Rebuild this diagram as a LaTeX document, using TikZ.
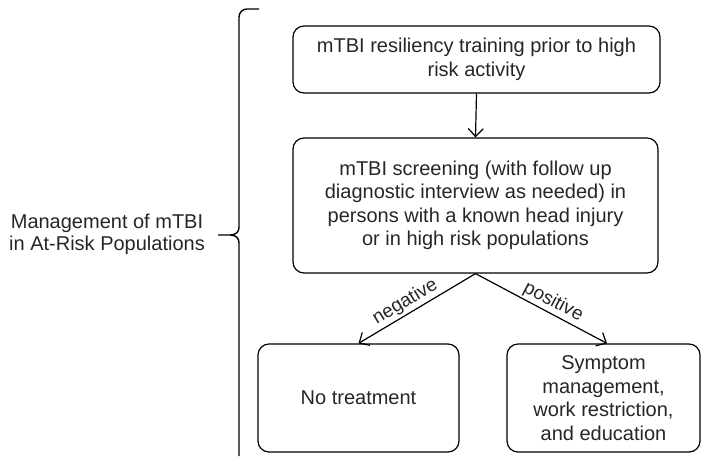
\documentclass[tikz,border=0pt]{standalone}
\usepackage{fontspec}
\setmainfont{Liberation Sans}
\usetikzlibrary{arrows.meta}
\begin{document}
\begin{tikzpicture}[x=1pt,y=-1pt,
  box/.style={draw, rounded corners=11pt, line width=1.2pt, align=center,
    inner sep=0pt, font=\fontsize{20}{23.5}\selectfont, text=black!85},
  arr/.style={line width=1.2pt, -{Straight Barb[length=8pt,width=15pt,line width=1.2pt]}},
  lab/.style={font=\fontsize{19}{22}\selectfont, text=black!85, sloped, inner sep=2pt},
  bracepath/.style={line width=1.4pt}]
\useasboundingbox (0,0) rectangle (701,456);
\node[box, minimum width=367pt, minimum height=67pt] (b1) at (476.5,59.5)
  {mTBI resiliency training prior to high\\risk activity};
\node[box, minimum width=365pt, minimum height=135pt] (b2) at (475.5,205.5)
  {mTBI screening (with follow up\\diagnostic interview as needed) in\\persons with a known head injury\\or in high risk populations};
\node[box, minimum width=201pt, minimum height=108pt] (b3) at (358.5,398)
  {No treatment};
\node[box, minimum width=193pt, minimum height=108pt] (b4) at (603.5,398)
  {Symptom\\management,\\work restriction,\\and education};
\node[align=center, font=\fontsize{20}{22}\selectfont, text=black!85] (lbl) at (107,234)
  {Management of mTBI\\in At-Risk Populations};
\draw[arr] (b1.south) -- (b2.north);
\draw[arr] (b2.south) -- node[lab, above, pos=0.55] {negative} (b3.north);
\draw[arr] (b2.south) -- node[lab, above, pos=0.55] {positive} ([xshift=3.5pt]b4.north);
\draw[bracepath] (259,9) [rounded corners=8pt] -- (239,9) [sharp corners] -- (239,227)
  .. controls (239,232) and (236,235) .. (230,235) -- (218,235)
  (230,235) .. controls (236,235) and (239,238) .. (239,243) -- (239,456);
\end{tikzpicture}
\end{document}
